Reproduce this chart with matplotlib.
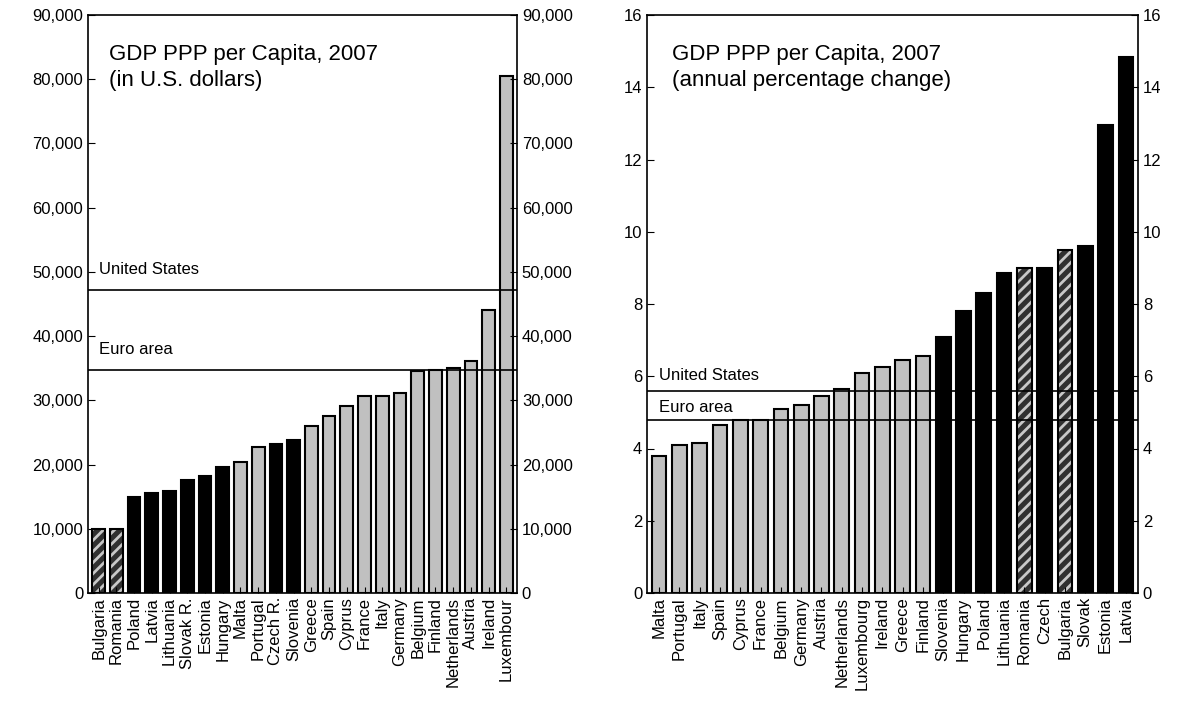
import matplotlib
matplotlib.use("Agg")
import matplotlib.pyplot as plt
from matplotlib.ticker import FuncFormatter

plt.rcParams['font.family'] = ['Liberation Sans', 'DejaVu Sans']
plt.rcParams['hatch.linewidth'] = 2.0

left_countries = ["Bulgaria","Romania","Poland","Latvia","Lithuania","Slovak R.","Estonia","Hungary","Malta","Portugal","Czech R.","Slovenia","Greece","Spain","Cyprus","France","Italy","Germany","Belgium","Finland","Netherlands","Austria","Ireland","Luxembour"]
left_values = [10000,10000,14900,15600,15900,17600,18200,19600,20400,22700,23200,23800,26000,27500,29100,30700,30700,31100,34500,34800,35100,36100,44100,80500]
left_kind = ["h","h","b","b","b","b","b","b","g","g","b","b","g","g","g","g","g","g","g","g","g","g","g","g"]
left_us, left_euro = 47200, 34800

right_countries = ["Malta","Portugal","Italy","Spain","Cyprus","France","Belgium","Germany","Austria","Netherlands","Luxembourg","Ireland","Greece","Finland","Slovenia","Hungary","Poland","Lithuania","Romania","Czech","Bulgaria","Slovak","Estonia","Latvia"]
right_values = [3.8,4.1,4.15,4.65,4.8,4.8,5.1,5.2,5.45,5.65,6.1,6.25,6.45,6.55,7.1,7.8,8.3,8.85,9.0,9.0,9.5,9.6,12.95,14.85]
right_kind = ["g"]*14 + ["b","b","b","b","h","b","h","b","b","b"]
right_us, right_euro = 5.6, 4.8

fig = plt.figure(figsize=(11.91,7.21), dpi=100)
ax1 = fig.add_axes([88/1191, 1-593/721, 429/1191, 578/721])
ax2 = fig.add_axes([647/1191, 1-593/721, 491/1191, 578/721])

def draw(ax, cats, vals, kinds, ymax, step, us, euro, title, fmt, us_off, eu_off):
    x = range(len(cats))
    for i, (v, k) in enumerate(zip(vals, kinds)):
        if k == "g":
            ax.bar(i, v, 0.72, color="#c0c0c0", edgecolor="black", linewidth=1.5)
        elif k == "b":
            ax.bar(i, v, 0.72, color="black", edgecolor="black", linewidth=1.5)
        else:
            ax.bar(i, v, 0.72, color="#303030", edgecolor="#c8c8c8", linewidth=0, hatch="///")
            ax.bar(i, v, 0.72, color="none", edgecolor="black", linewidth=1.5)
    ax.set_xlim(-0.6, len(cats)-0.4)
    ax.set_ylim(0, ymax)
    ax.axhline(us, color="black", lw=1.2)
    ax.axhline(euro, color="black", lw=1.2)
    ax.text(0.0, us+us_off, "United States", fontsize=12)
    ax.text(0.0, euro+eu_off, "Euro area", fontsize=12)
    ax.text(0.05, 0.95, title, transform=ax.transAxes, fontsize=16, va="top", linespacing=1.3)
    ax.set_xticks(list(x))
    ax.set_xticklabels(cats, rotation=90, fontsize=12)
    yt = [i*step for i in range(int(round(ymax/step))+1)]
    ax.set_yticks(yt)
    ax.yaxis.set_major_formatter(FuncFormatter(fmt))
    ax.tick_params(axis='y', labelsize=12, direction='in', right=True, labelright=True, length=5)
    ax.tick_params(axis='x', direction='in', length=4, pad=3)
    for s in ax.spines.values():
        s.set_linewidth(1.2)

draw(ax1, left_countries, left_values, left_kind, 90000, 10000, left_us, left_euro,
     "GDP PPP per Capita, 2007\n(in U.S. dollars)", lambda v, p: f"{int(v):,}", 2400, 2400)
draw(ax2, right_countries, right_values, right_kind, 16, 2, right_us, right_euro,
     "GDP PPP per Capita, 2007\n(annual percentage change)", lambda v, p: f"{int(v)}", 0.3, 0.2)

fig.savefig("out.png", dpi=100)
